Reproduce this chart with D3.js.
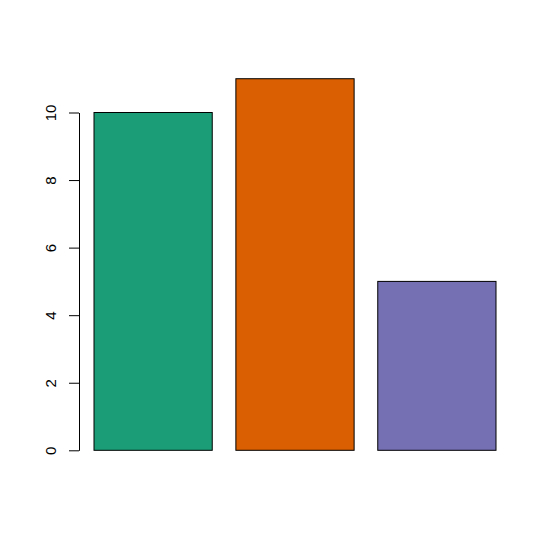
<!DOCTYPE html>
<html>
<head>
<meta charset="utf-8">
<script src="https://cdn.jsdelivr.net/npm/d3@7"></script>
<style>
body { margin: 0; background: #fff; }
svg text { font-family: "Liberation Sans", Arial, sans-serif; }
</style>
</head>
<body>
<div id="chart"></div>
<script>
var categories = ['A', 'B', 'C'];
var values = [10, 11, 5];
var colors = ['#1B9E77', '#D95F02', '#7570B3'];
var yTicks = [0, 2, 4, 6, 8, 10];

var width = 553;
var height = 552;

var svg = d3.select('#chart').append('svg')
    .attr('width', width)
    .attr('height', height);

var x = d3.scaleBand()
    .domain(categories)
    .range([94, 496])
    .paddingInner(1 / 6)
    .paddingOuter(0);

var y = d3.scaleLinear()
    .domain([0, 10])
    .range([450.3, 112.5]);

svg.selectAll('rect.bar')
    .data(values)
    .enter()
    .append('rect')
    .attr('class', 'bar')
    .attr('x', function(d, i){ return x(categories[i]); })
    .attr('y', function(d){ return y(d); })
    .attr('width', x.bandwidth())
    .attr('height', function(d){ return y(0) - y(d); })
    .style('fill', function(d, i){ return colors[i]; })
    .style('stroke', '#000')
    .style('stroke-width', 1);

// left axis, R style: ticks out, labels rotated
var axis = svg.append('g')
    .attr('transform', 'translate(79,0)')
    .attr('font-size', null)
    .call(d3.axisLeft(y).tickValues(yTicks).tickSize(10).tickPadding(0).tickSizeOuter(0));

axis.select('.domain').attr('stroke', '#000');
axis.selectAll('.tick line').attr('stroke', '#000');
axis.selectAll('.tick text')
    .attr('dy', 0)
    .attr('transform', 'rotate(-90)')
    .attr('text-anchor', 'middle')
    .attr('x', 0)
    .attr('y', -23)
    .attr('font-size', 15)
    .style('font-size', '15px')
    .style('fill', '#000');
</script>
</body>
</html>
